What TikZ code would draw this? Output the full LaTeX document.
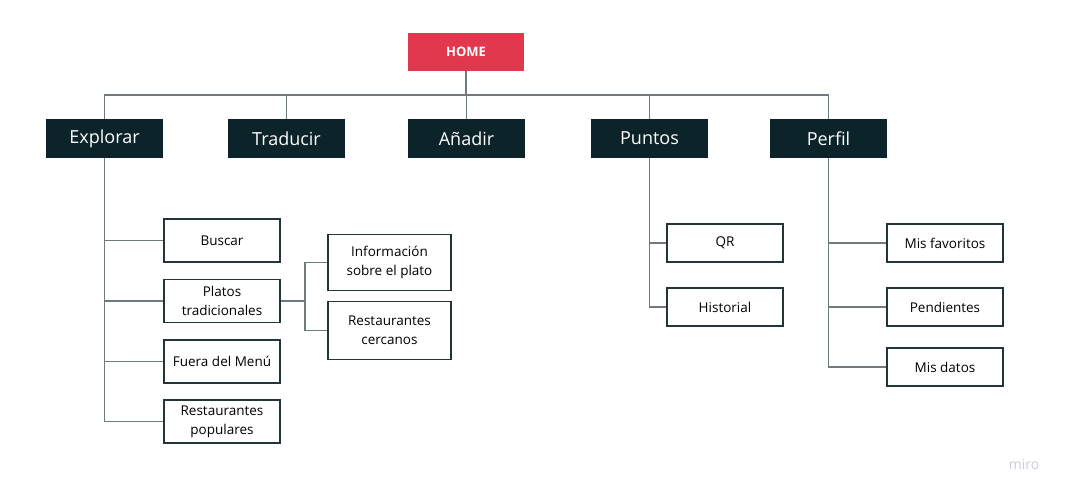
\documentclass[tikz,border=0pt]{standalone}
\usepackage{fontspec}
\setmainfont{Open Sans}
\usetikzlibrary{positioning}

\definecolor{homered}{HTML}{E2384D}
\definecolor{darkbox}{HTML}{0C2429}
\definecolor{linegray}{HTML}{6E7A7B}
\definecolor{boxline}{HTML}{243538}
\definecolor{mirogray}{HTML}{C9CDD6}

\begin{document}
\begin{tikzpicture}[x=1pt,y=-1pt,node distance=181pt,
  home node/.style={rectangle,fill=homered,text=white,inner sep=0pt,
    minimum width=116pt,minimum height=38pt,font=\fontsize{13}{15}\selectfont\bfseries},
  main node/.style={rectangle,fill=darkbox,text=white,inner sep=0pt,
    minimum width=117pt,minimum height=39pt,font=\fontsize{18}{21}\selectfont},
  sub node/.style={rectangle,draw=boxline,line width=1.5pt,fill=white,inner sep=0pt,
    minimum width=116pt,minimum height=43pt,align=center,
    font=\fontsize{13.5}{19}\selectfont},
  link/.style={draw=linegray,line width=1.1pt}]

  \useasboundingbox (0,0) rectangle (1066,496);

  \node[home node] (home) at (466,52) {HOME};

  \node[main node] (ex) at (104.5,138.5) {Explorar};
  \node[main node] (tr) [right of=ex,node distance=182pt] {Traducir};
  \node[main node] (an) [right of=tr,node distance=180pt] {Añadir};
  \node[main node] (pu) [right of=an,node distance=183pt] {Puntos};
  \node[main node] (pe) [right of=pu,node distance=179pt] {Perfil};

  % Explorar
  \node[sub node] (bu) at (222,240.5) {Buscar};
  \node[sub node] (pt) [below of=bu,node distance=60.5pt] {Platos\\tradicionales};
  \node[sub node] (fm) [below of=pt,node distance=60.5pt] {Fuera del Menú};
  \node[sub node] (rp) [below of=fm,node distance=60pt] {Restaurantes\\populares};
  \node[sub node,minimum width=123pt,minimum height=56pt] (in) at (389.5,262.5) {Información\\sobre el plato};
  \node[sub node,minimum width=123pt,minimum height=58pt] (rc) [below of=in,node distance=68pt] {Restaurantes\\cercanos};

  % Puntos
  \node[sub node,minimum height=38pt] (qr) at (725,243) {QR};
  \node[sub node,minimum height=38pt] (hi) [below of=qr,node distance=64pt] {Historial};

  % Perfil
  \node[sub node,minimum height=38pt] (mf) at (945,243) {Mis favoritos};
  \node[sub node,minimum height=38pt] (pd) [below of=mf,node distance=64pt] {Pendientes};
  \node[sub node,minimum height=38pt] (md) [below of=pd,node distance=60pt] {Mis datos};

  \node[text=mirogray,font=\fontsize{14}{16}\selectfont] (miro) at (1024,464) {miro};

  \coordinate (bus) at (466,95);
  \coordinate (fork) at (305,301);

  \path[link]
    (home) -- (bus)
    (bus) -| (ex.north)
    (bus) -| (tr.north)
    (bus) -| (an.north)
    (bus) -| (pu.north)
    (bus) -| (pe.north)
    (ex.south) |- (bu.west)
    (ex.south) |- (pt.west)
    (ex.south) |- (fm.west)
    (ex.south) |- (rp.west)
    (pt.east) -- (fork) |- (in.west)
    (fork) |- (rc.west)
    (pu.south) |- (qr.west)
    (pu.south) |- (hi.west)
    (pe.south) |- (mf.west)
    (pe.south) |- (pd.west)
    (pe.south) |- (md.west)
    ;
\end{tikzpicture}
\end{document}
